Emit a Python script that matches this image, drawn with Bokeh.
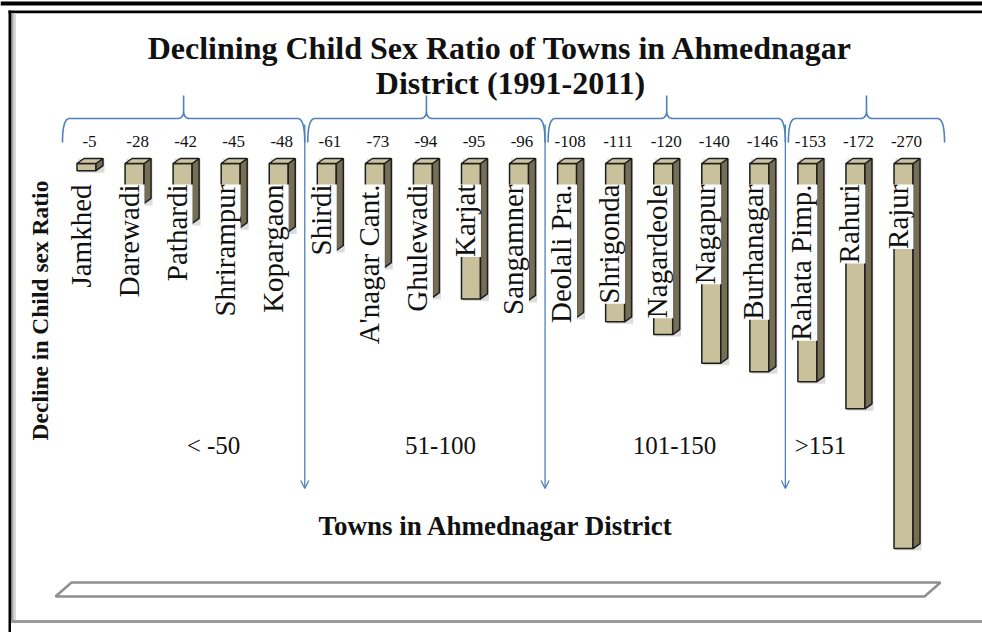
import numpy as np
from bokeh.plotting import figure
from bokeh.models import Range1d, Arrow, OpenHead
from bokeh.core.properties import value
from bokeh.embed import file_html
from bokeh.resources import INLINE

# ---------------- data ----------------
towns = ["Jamkhed", "Darewadi", "Pathardi", "Shrirampur", "Kopargaon",
         "Shirdi", "A'nagar Cant.", "Ghulewadi", "Karjat", "Sangamner",
         "Deolali Pra.", "Shrigonda", "Nagardeole", "Nagapur", "Burhanagar",
         "Rahata Pimp.", "Rahuri", "Rajur"]
decline = [-5, -28, -42, -45, -48, -61, -73, -94, -95, -96,
           -108, -111, -120, -140, -146, -153, -172, -270]
group_labels = ["< -50", "51-100", "101-150", ">151"]
group_sizes = [5, 5, 5, 3]
title_lines = ["Declining Child Sex Ratio of Towns in Ahmednagar",
               "District (1991-2011)"]
x_title = "Towns in  Ahmednagar District"
y_title = "Decline in Child sex Ratio"

# ---------------- layout constants ----------------
W, H = 982, 632
OFF = 0.0                   # image px of the figure's top-left corner
PX0, DXP = 86.0, 48.06      # image px of first bar centre, px per category
PY0, SYP = 163.0, 1.426     # image px of zero line, px per unit

def X(px):
    return (px - PX0) / DXP

def Y(py):
    return (PY0 - py) / SYP

def WX(px):
    return px / DXP

def HY(px):
    return px / SYP

FONT = value("Liberation Serif")
BLUE = "#4f81bd"

p = figure(width=W, height=H, output_backend="svg", toolbar_location=None,
           x_range=Range1d(X(OFF), X(OFF + W)), y_range=Range1d(Y(OFF + H), Y(OFF)),
           min_border=0, background_fill_color="white",
           border_fill_color="white")
p.axis.visible = False
p.grid.visible = False
p.outline_line_color = None

# ---------------- frame ----------------
p.quad(left=X(0), right=X(982), top=Y(1), bottom=Y(5), fill_color="black", line_color=None)
p.quad(left=X(8), right=X(982), top=Y(10), bottom=Y(12.7), fill_color="black", line_color=None)
p.quad(left=X(8), right=X(10.5), top=Y(10), bottom=Y(632), fill_color="black", line_color=None)
for k, c in enumerate(["#7a7a7a", "#9a9a9a", "#b8b8b8", "#d4d4d4"]):
    p.quad(left=X(10.5 + k * 1.2), right=X(11.7 + k * 1.2), top=Y(12.7), bottom=Y(621),
           fill_color=c, line_color=None)
p.quad(left=X(10.5), right=X(982), top=Y(619.5), bottom=Y(622.5), fill_color="#9a9a9a", line_color=None)

# floor
p.patch(x=[X(55), X(71), X(940), X(924)], y=[Y(596), Y(582), Y(582), Y(596)],
        fill_color="white", line_color="#8f8f8f", line_width=2.5)

# ---------------- bars (3D look) ----------------
n = len(decline)
idx = np.arange(n, dtype=float)
v = np.array(decline, dtype=float)
hw = WX(9.5)
dx = WX(7)
dy = HY(5)
x0 = idx - hw
x1 = idx + hw

p.quad(left=x0 + WX(1.5), right=x1 + dx + WX(1.5), top=dy, bottom=v - HY(2),
       fill_color="#9a9a9a", fill_alpha=0.35, line_color=None)
p.quad(left=x0, right=x1, top=0, bottom=v, fill_color="#c9c19b",
       line_color="#1e1e1e", line_width=1.5)
p.patches(xs=[[a, a + dx, a + dx, a] for a in x1],
          ys=[[0, dy, b + dy, b] for b in v],
          fill_color="#756d54", line_color="#1e1e1e", line_width=1.5)
p.patches(xs=[[a, b, b + dx, a + dx] for a, b in zip(x0, x1)],
          ys=[[0, 0, dy, dy] for _ in v],
          fill_color="#cdc5a2", line_color="#1e1e1e", line_width=1.5)

# value labels
p.text(x=idx + WX(3), y=Y(141), text=[str(d) for d in decline],
       text_font=FONT, text_font_size="17px", text_color="#111111",
       text_align="center", text_baseline="middle")

# town labels
p.text(x=idx - WX(6), y=Y(184), text=towns, angle=np.pi / 2,
       text_font=FONT, text_font_size="29px", text_color="#111111",
       text_align="right", text_baseline="middle",
       background_fill_color="white")

# ---------------- brackets and arrows ----------------
def quad_curve(pa, pc, pb, m=10):
    t = np.linspace(0, 1, m)
    xs = (1 - t) ** 2 * pa[0] + 2 * (1 - t) * t * pc[0] + t ** 2 * pb[0]
    ys = (1 - t) ** 2 * pa[1] + 2 * (1 - t) * t * pc[1] + t ** 2 * pb[1]
    return list(xs), list(ys)

last = np.cumsum(group_sizes) - 1
bounds_px = [PX0 + DXP * (l + 0.5) + 2 for l in last[:-1]]
starts_px = [PX0 - 0.5 * DXP] + [b + 3 for b in bounds_px]
ends_px = bounds_px + [PX0 + DXP * (last[-1] + 0.5) + 17]

ybar, ytip, yend = 118, 95, 142
for sx, ex in zip(starts_px, ends_px):
    mx = (sx + ex) / 2
    xs, ys = [], []
    a, b = quad_curve((sx, yend), (sx, ybar), (sx + 7, ybar))
    xs += a; ys += b
    a, b = quad_curve((mx - 6, ybar), (mx, ybar), (mx, ybar - 8))
    xs += a; ys += b
    xs += [mx]; ys += [ytip]
    a, b = quad_curve((mx, ybar - 8), (mx, ybar), (mx + 6, ybar))
    xs += a; ys += b
    a, b = quad_curve((ex - 7, ybar), (ex, ybar), (ex, yend))
    xs += a; ys += b
    p.line(x=[X(q) for q in xs], y=[Y(q) for q in ys], line_color=BLUE, line_width=1.6)

for bx in bounds_px:
    p.add_layout(Arrow(end=OpenHead(size=8, line_color=BLUE, line_width=1.3),
                       x_start=X(bx), y_start=Y(124), x_end=X(bx), y_end=Y(488),
                       line_color=BLUE, line_width=1.3))

group_label_px = [213, 440, 674, 820]
p.text(x=[X(q) for q in group_label_px], y=[Y(445)] * len(group_labels), text=group_labels,
       text_font=FONT, text_font_size="25px", text_color="#111111",
       text_align="center", text_baseline="middle")

# ---------------- titles ----------------
p.text(x=[X(500), X(510)], y=[Y(47), Y(82)], text=title_lines,
       text_font=FONT, text_font_size="32px", text_font_style="bold",
       text_color="#111111", text_align="center", text_baseline="middle")
p.text(x=[X(499)], y=[Y(525)], text=[x_title],
       text_font=FONT, text_font_size="27px", text_font_style="bold",
       text_color="#111111", text_align="center", text_baseline="middle")
p.text(x=[X(39)], y=[Y(310)], text=[y_title], angle=np.pi / 2,
       text_font=FONT, text_font_size="23.5px", text_font_style="bold",
       text_color="#111111", text_align="center", text_baseline="middle")

open("out.html", "w").write(file_html(p, INLINE))
